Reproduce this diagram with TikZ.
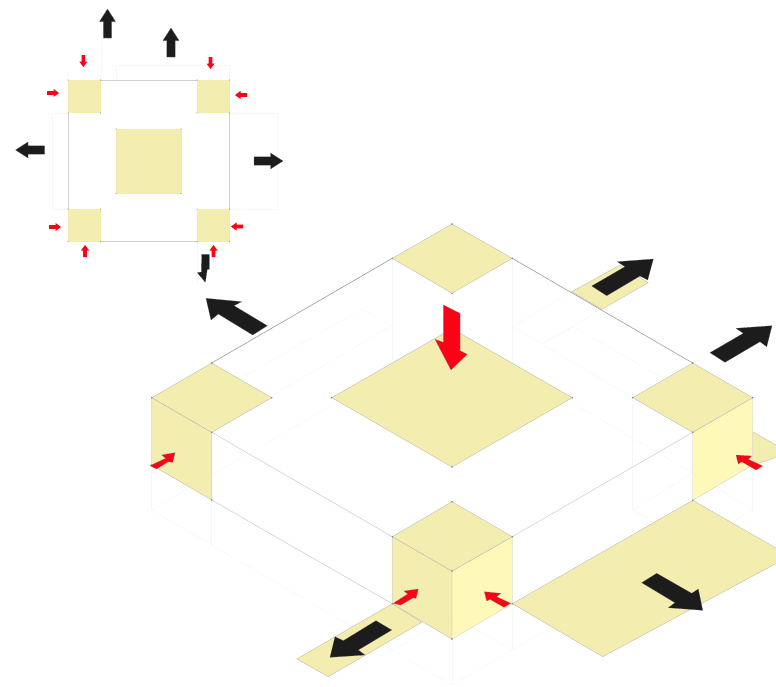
\documentclass[tikz,border=0pt]{standalone}
\usepackage{xcolor}
\usetikzlibrary{arrows.meta}
\definecolor{tilecol}{RGB}{242,236,172}
\definecolor{wallcol}{RGB}{255,249,181}
\definecolor{ghostcol}{RGB}{247,247,247}
\definecolor{blockcol}{RGB}{28,28,28}
\definecolor{forcecol}{RGB}{255,0,22}
\newcommand{\vdot}[1]{\fill[black!50] (#1) circle (0.8);}
\begin{document}
\begin{tikzpicture}[x=1pt,y=-1pt]
\tikzstyle{tile}=[fill=tilecol,fill opacity=0.95,draw=black!30,line width=0.3pt]
\tikzstyle{brightwall}=[fill=wallcol,fill opacity=0.95,draw=black!22,line width=0.3pt]
\tikzstyle{ghost}=[draw=ghostcol,line width=0.5pt]
\tikzstyle{roofline}=[draw=black!38,line width=0.6pt]
\tikzstyle{innerline}=[draw=black!18,line width=0.6pt]
\tikzstyle{blockarrow}=[fill=blockcol,draw=black!60,line width=0.2pt,line join=round]
\tikzstyle{forcearrow}=[fill=forcecol,draw=black!50,line width=0.2pt,line join=round]
\useasboundingbox (0,0) rectangle (776,686);
\clip (0,0) rectangle (776,686);

% plan
\draw[ghost] (101,80) -- (101,22);
\draw[ghost] (116,80) -- (116,65) -- (229,65) -- (229,80);
\draw[ghost] (229,113) -- (277,113) -- (277,209) -- (229,209);
\draw[ghost] (68,113) -- (52,113) -- (52,209) -- (68,209);
\draw[ghost] (197,241) -- (197,283);
\draw[ghost] (213,241) -- (213,270);
\draw[innerline] (68,80) rectangle (229.5,241.5);
\foreach \px/\py in {68/80,197/80,68/209,197/209}
  \draw[tile,draw=tilecol] (\px,\py) rectangle ++(32.5,32.5);
\draw[tile,draw=tilecol] (116,129) rectangle (181,193.5);
\foreach \px/\py in {68/80,100.5/80,197/80,229.5/80,68/113,100.5/113,197/113,229.5/113,
  68/209,100.5/209,197/209,229.5/209,68/241.5,100.5/241.5,197/241.5,229.5/241.5,
  116/129,181/129,116/193.5,181/193.5}
  \fill[black!40] (\px,\py) circle (0.6);

% plan arrows, tail at the given point
\foreach \px/\py/\ang in {107.5/38/90,171/57/90,44.5/150/180,254/161/0}
  \draw[blockarrow,shift={(\px,\py)},rotate=\ang]
    (0,-4.2) -- (16.5,-4.2) -- (16.5,-8) -- (29,0) -- (16.5,8) -- (16.5,4.2) -- (0,4.2) -- cycle;
\draw[blockarrow] (201.7,254.3) -- (209.3,254.3) -- (209.3,269.3) -- (207.3,269.3) -- (205.3,282.3)
  -- (197.3,272.7) -- (201.3,272) -- cycle;
\foreach \px/\py/\ang in {83.3/55/-90,210.5/57/-90,47/93/0,247/95/180,49/227/0,243/226.5/180,85/257/90,213.5/257/90}
  \fill[forcecol,shift={(\px,\py)},rotate=\ang]
    (0,-1.8) -- (6.5,-1.8) -- (6.5,-4) -- (12,0) -- (6.5,4) -- (6.5,1.8) -- (0,1.8) -- cycle;

% block corners
\coordinate (ntop) at (452,224);
\coordinate (nleft) at (392.3,258.3);
\coordinate (nright) at (512.3,258.3);
\coordinate (nbot) at (452,293.3);
\coordinate (ctop) at (452,328.6);
\coordinate (cleft) at (331.7,397.7);
\coordinate (cright) at (572.3,397.7);
\coordinate (cbot) at (452,467);
\coordinate (wtop) at (211.7,363);
\coordinate (wleft) at (151.7,397.7);
\coordinate (wright) at (271.7,397.7);
\coordinate (wbot) at (211.7,432.3);
\coordinate (wlow) at (211.7,500);
\coordinate (wout) at (151.7,465);
\coordinate (etop) at (692.7,363);
\coordinate (eleft) at (632.7,397.7);
\coordinate (eright) at (752.7,397.7);
\coordinate (ebot) at (692.7,432.3);
\coordinate (elow) at (692.7,500.3);
\coordinate (eout) at (752.7,465);
\coordinate (stop) at (452,501.7);
\coordinate (sleft) at (392.3,536.7);
\coordinate (sright) at (512.3,536.7);
\coordinate (sbot) at (452,571);
\coordinate (slow) at (452,639);
\coordinate (sout) at (392.3,603.7);
\coordinate (srout) at (512.3,603.7);

% ghost of the base
\draw[ghost] (nleft) -- (392.3,360);
\draw[ghost] (nright) -- (512.3,363);
\draw[ghost] (nbot) -- (ctop);
\draw[ghost] (240,378.3) -- (361.7,309.3) -- (391.7,325.7) -- (273,395);
\draw[ghost] (512.3,326.7) -- (571.7,291.7);
\draw[ghost] (601.7,309.3) -- (543.3,343.3);
\draw[ghost] (512.3,326.7) -- (eleft);
\draw[ghost] (573.3,326.7) -- (663.3,378.3);
\draw[ghost] (543.3,343.3) -- (573.3,326.7);
\draw[ghost] (332,405) -- (151.7,510) -- (211.7,545) -- (452,685) -- (512.3,650) -- (692.7,545);
\draw[ghost] (wout) -- (151.7,510);
\draw[ghost] (wlow) -- (211.7,545);
\draw[ghost] (slow) -- (452,685);
\draw[ghost] (srout) -- (512.3,650);
\draw[ghost] (392.3,650) -- (452,616) -- (512.3,650);
\draw[ghost] (572.3,403) -- (692.7,473) -- (752.7,510) -- (692.7,545) -- (632.7,510) -- (692.7,473);
\draw[ghost] (eleft) -- (632.7,510);
\draw[ghost] (eout) -- (752.7,510);
\draw[ghost] (elow) -- (692.7,545);

% floor strips
\draw[tile] (571.7,291.7) -- (601.7,309.3) -- (648.3,282.7) -- (620,265) -- cycle;
\draw[tile] (sout) -- (421.7,622.3) -- (328.3,676.7) -- (296.7,659) -- cycle;
\draw[tile] (srout) -- (elow) -- (790,556) -- (602.7,656.7) -- cycle;
\draw[tile] (752.7,431.7) -- (790,453) -- (eout) -- cycle;

% walls and roof tiles
\draw[tile] (wleft) -- (wbot) -- (wlow) -- (wout) -- cycle;
\draw[brightwall] (ebot) -- (eright) -- (eout) -- (elow) -- cycle;
\draw[tile] (sleft) -- (sbot) -- (slow) -- (sout) -- cycle;
\draw[brightwall] (sbot) -- (sright) -- (srout) -- (slow) -- cycle;
\draw[tile] (ntop) -- (nright) -- (nbot) -- (nleft) -- cycle;
\draw[tile] (ctop) -- (cright) -- (cbot) -- (cleft) -- cycle;
\draw[tile] (wtop) -- (wright) -- (wbot) -- (wleft) -- cycle;
\draw[tile] (etop) -- (eright) -- (ebot) -- (eleft) -- cycle;
\draw[tile] (stop) -- (sright) -- (sbot) -- (sleft) -- cycle;

\draw[roofline] (wtop) -- (nleft);
\draw[roofline] (nright) -- (etop);
\draw[innerline] (wbot) -- (sleft);
\draw[innerline] (sright) -- (ebot);
\draw[innerline] (wlow) -- (sout);

\foreach \nm in {ntop,nleft,nright,nbot,cleft,cright,cbot,wtop,wleft,wright,wbot,wlow,wout,
  etop,eleft,eright,ebot,elow,stop,sleft,sright,sbot,slow,sout,srout}
  {\vdot{\nm}}

% block arrows
\draw[blockarrow] (206,298.3) -- (241.7,301.7) -- (234,305.7) -- (267.3,325.7) -- (252.7,335)
  -- (218.3,314) -- (211,320) -- cycle;
\draw[blockarrow] (653.3,259) -- (617.3,261.7) -- (625,266.7) -- (591.7,286) -- (606.7,295.7)
  -- (640,276) -- (647.7,280) -- cycle;
\draw[blockarrow] (772,325.7) -- (736,328.3) -- (743.3,333.3) -- (710,352.7) -- (725,362.3)
  -- (760,341.7) -- (766.7,346.7) -- cycle;
\draw[blockarrow] (702.7,610.3) -- (668.3,607.7) -- (675,602.7) -- (641.7,582.7) -- (656.7,573.3)
  -- (691.7,593.3) -- (698.3,589) -- cycle;
\draw[blockarrow] (330,657.3) -- (335,636.7) -- (343.3,640.7) -- (376,620.7) -- (391.7,630)
  -- (358.3,650) -- (365,655) -- cycle;

% force arrows
\draw[forcearrow] (443.3,305) -- (460,313.3) -- (460,350.7) -- (467.3,354.3) -- (451,370)
  -- (435,339.3) -- (443.3,342.3) -- cycle;
\draw[forcearrow] (175,452.7) -- (161.7,455) -- (165.7,458.3) -- (150,465.7) -- (156.7,469)
  -- (168.3,461.7) -- (172.7,462.3) -- cycle;
\draw[forcearrow] (736,455) -- (751.7,456) -- (748.3,459.3) -- (762.7,466) -- (756,470)
  -- (741.7,461.7) -- (738.3,464) -- cycle;
\draw[forcearrow] (418.3,589) -- (404,591) -- (407.7,594) -- (393.3,603.3) -- (400.7,605)
  -- (413.3,597.7) -- (416,598.3) -- cycle;
\draw[forcearrow] (484.3,591.7) -- (500.7,593.3) -- (496.7,596.7) -- (510.7,603.3) -- (504,607.3)
  -- (490,599.3) -- (486.7,601) -- cycle;
\end{tikzpicture}
\end{document}
